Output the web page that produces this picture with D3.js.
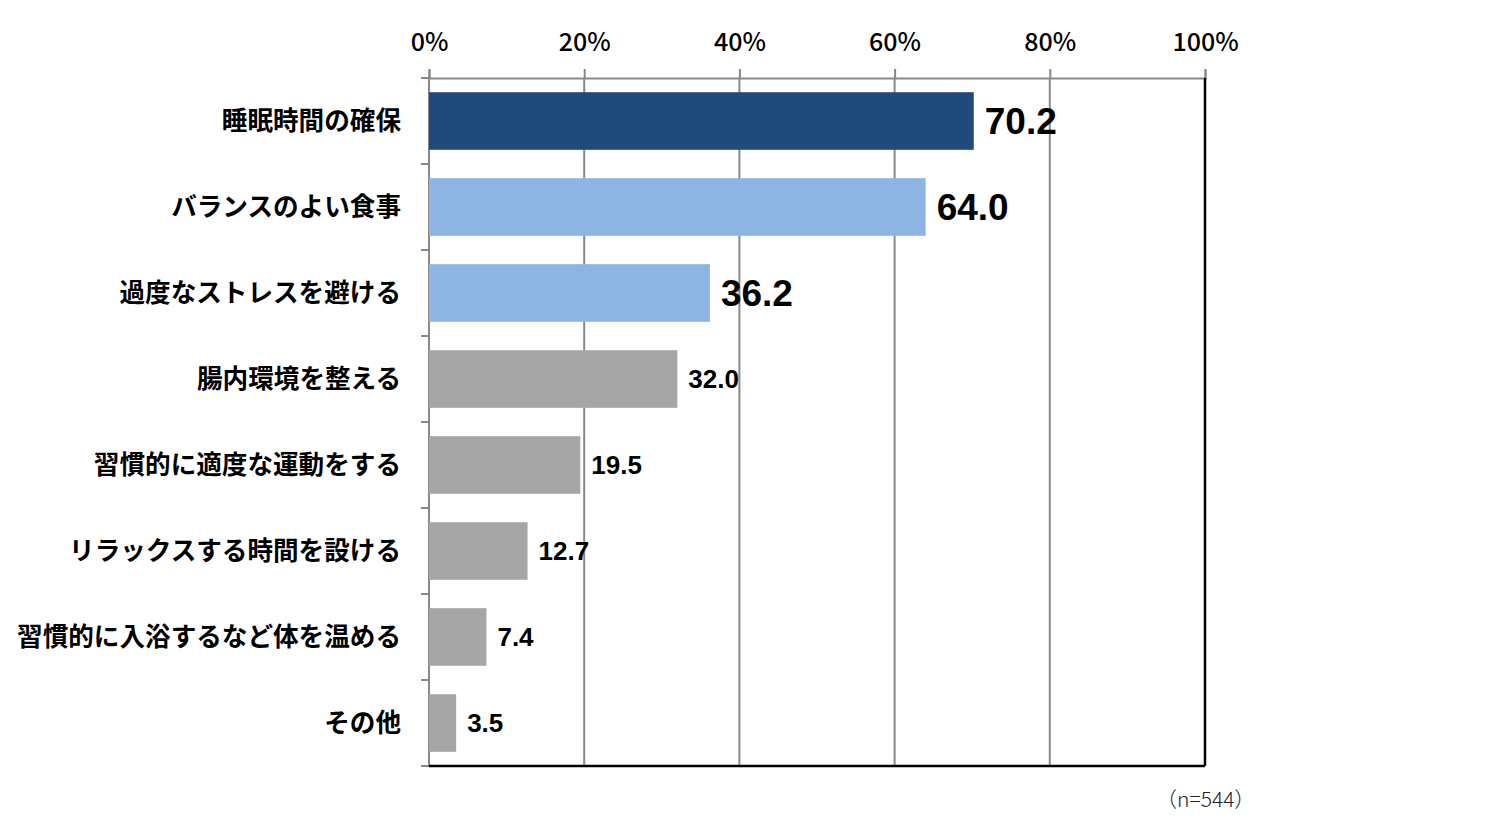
<!DOCTYPE html>
<html>
<head>
<meta charset="utf-8">
<script src="https://cdn.jsdelivr.net/npm/d3@7"></script>
<style>
  body { margin: 0; background: #fff; }
  svg { display: block; }
</style>
</head>
<body>
<div id="chart"></div>
<script>
// data
const categories = ["睡眠時間の確保", "バランスのよい食事", "過度なストレスを避ける", "腸内環境を整える",
    "習慣的に適度な運動をする", "リラックスする時間を設ける", "習慣的に入浴するなど体を温める", "その他"];
const values = [70.2, 64.0, 36.2, 32.0, 19.5, 12.7, 7.4, 3.5];
const xTicks = [0, 20, 40, 60, 80, 100];
const sampleNote = "（n=544）";

const colors = ["#214a7c", "#8eb4e3", "#8eb4e3", "#a6a6a6", "#a6a6a6", "#a6a6a6", "#a6a6a6", "#a6a6a6"];

const W = 1489, H = 823;
const margin = {top: 78, right: 284, bottom: 57, left: 429};
const width = W - margin.left - margin.right;
const height = H - margin.top - margin.bottom;

const svg = d3.select("#chart").append("svg")
    .attr("width", W)
    .attr("height", H);

const g = svg.append("g")
    .attr("transform", "translate(" + margin.left + "," + margin.top + ")");

// scales
const x = d3.scaleLinear().domain([0, 100]).range([0, width]);
const y = d3.scaleBand().domain(categories).range([0, height]).paddingInner(0.33).paddingOuter(0.165);

// gridlines
g.append("g")
    .selectAll("line")
    .data(xTicks.slice(1, -1))
    .join("line")
    .attr("x1", d => x(d)).attr("x2", d => x(d))
    .attr("y1", 0).attr("y2", height)
    .attr("stroke", "#898989")
    .attr("stroke-width", 2);

// top axis
const xAxis = d3.axisTop(x).tickValues(xTicks).tickSize(9).tickFormat(d => d + "%");
const xg = g.append("g").call(xAxis);
xg.select(".domain").attr("stroke", "#898989").attr("stroke-width", 2);
xg.selectAll(".tick line").attr("stroke", "#898989").attr("stroke-width", 2);
xg.selectAll(".tick text")
    .attr("y", -36)
    .attr("dy", "0.35em")
    .attr("fill", "#000")
    .style("font-family", "'Noto Sans CJK JP', 'Noto Sans', sans-serif")
    .style("font-weight", 500)
    .style("font-size", "25px");

// left axis (ticks at band boundaries)
const bounds = d3.range(categories.length + 1).map(i => i * y.step());
g.append("line")
    .attr("x1", 0).attr("x2", 0).attr("y1", 0).attr("y2", height)
    .attr("stroke", "#898989").attr("stroke-width", 2);
g.append("g")
    .selectAll("line")
    .data(bounds)
    .join("line")
    .attr("x1", -8).attr("x2", 0)
    .attr("y1", d => d).attr("y2", d => d)
    .attr("stroke", "#898989").attr("stroke-width", 2);

// category labels
g.append("g")
    .selectAll("text")
    .data(categories)
    .join("text")
    .attr("x", -28)
    .attr("y", d => y(d) + y.bandwidth() / 2)
    .attr("dy", "0.35em")
    .attr("text-anchor", "end")
    .style("font-family", "'Noto Sans CJK JP', sans-serif")
    .style("font-weight", "bold")
    .style("font-size", "25.6px")
    .text(d => d);

// bars
g.append("g")
    .selectAll("rect")
    .data(values)
    .join("rect")
    .attr("x", 0)
    .attr("y", (d, i) => y(categories[i]))
    .attr("width", d => x(d))
    .attr("height", y.bandwidth())
    .attr("fill", (d, i) => colors[i]);

// right and bottom frame
g.append("line")
    .attr("x1", width).attr("x2", width).attr("y1", 0).attr("y2", height)
    .attr("stroke", "#000").attr("stroke-width", 2.5);
g.append("line")
    .attr("x1", 0).attr("x2", width).attr("y1", height).attr("y2", height)
    .attr("stroke", "#000").attr("stroke-width", 2.5);

// value labels
g.append("g")
    .selectAll("text")
    .data(values)
    .join("text")
    .attr("x", d => x(d) + 11)
    .attr("y", (d, i) => y(categories[i]) + y.bandwidth() / 2)
    .attr("dy", "0.36em")
    .style("font-family", "'Liberation Sans', Arial, sans-serif")
    .style("font-weight", "bold")
    .style("font-size", (d, i) => i < 3 ? "37px" : "26px")
    .text(d => d.toFixed(1));

// sample note
svg.append("text")
    .attr("x", 1156)
    .attr("y", 800)
    .attr("dy", "0.35em")
    .attr("fill", "#222")
    .style("font-family", "'Noto Sans CJK JP', sans-serif")
    .style("font-weight", 300)
    .style("font-size", "21px")
    .text(sampleNote);
</script>
</body>
</html>
